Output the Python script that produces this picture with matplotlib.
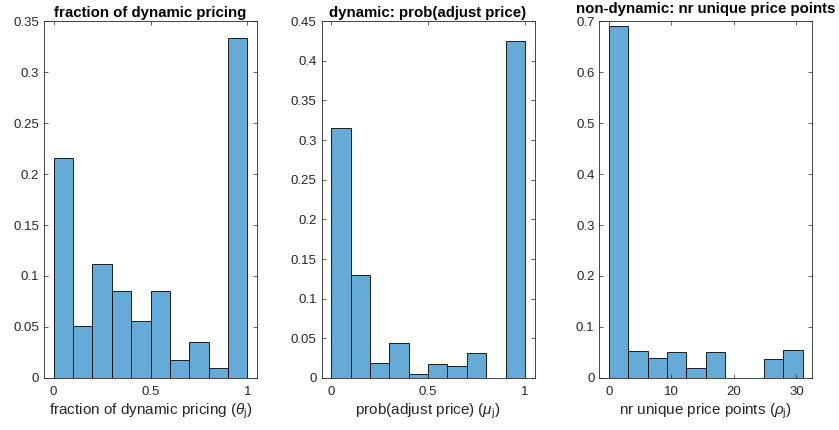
import numpy as np
import matplotlib
matplotlib.use("Agg")
import matplotlib.pyplot as plt

plt.rcParams['font.family'] = ['Liberation Sans', 'DejaVu Sans']
plt.rcParams['mathtext.fontset'] = 'custom'
plt.rcParams['mathtext.rm'] = 'Liberation Sans'
plt.rcParams['mathtext.it'] = 'Liberation Sans:italic'

# histogram bin edges and normalized counts
theta_edges = np.linspace(0, 1, 11)
theta_frac = [0.216, 0.051, 0.112, 0.0855, 0.0555, 0.085, 0.018, 0.035, 0.0095, 0.333]

mu_edges = np.linspace(0, 1, 11)
mu_frac = [0.315, 0.130, 0.019, 0.0435, 0.005, 0.0175, 0.0145, 0.031, 0.0, 0.425]

rho_edges = np.linspace(0, 31, 11)
rho_frac = [0.690, 0.052, 0.039, 0.0515, 0.0205, 0.051, 0.0, 0.0, 0.037, 0.0555]

titles = ["fraction of dynamic pricing",
          "dynamic: prob(adjust price)",
          "non-dynamic: nr unique price points"]
xlabels = [r"fraction of dynamic pricing ($\theta_\mathrm{j}$)",
           r"prob(adjust price) ($\mu_\mathrm{j}$)",
           r"nr unique price points ($\rho_\mathrm{j}$)"]
ylims = [0.35, 0.45, 0.7]
yticks = [np.arange(0, 0.351, 0.05), np.arange(0, 0.451, 0.05), np.arange(0, 0.71, 0.1)]
ylabels_txt = [["0", "0.05", "0.1", "0.15", "0.2", "0.25", "0.3", "0.35"],
               ["0", "0.05", "0.1", "0.15", "0.2", "0.25", "0.3", "0.35", "0.4", "0.45"],
               ["0", "0.1", "0.2", "0.3", "0.4", "0.5", "0.6", "0.7"]]
xticks = [[0, 0.5, 1], [0, 0.5, 1], [0, 10, 20, 30]]
xtick_txt = [["0", "0.5", "1"], ["0", "0.5", "1"], ["0", "10", "20", "30"]]

fig = plt.figure(figsize=(8.39, 4.30), dpi=100)
lefts = [0.0524, 0.3832, 0.7143]
title_pads = [3, 3, 5.5]
grey = (0.15, 0.15, 0.15)
bar_col = (0.4, 0.668, 0.8446)

data = [(theta_edges, theta_frac), (mu_edges, mu_frac), (rho_edges, rho_frac)]
for i in range(3):
    ax = fig.add_axes([lefts[i], 0.121, 0.254, 0.830])
    edges, vals = data[i]
    ax.bar(edges[:-1], vals, width=np.diff(edges), align='edge',
           color=bar_col, edgecolor='black', linewidth=0.6)
    pad = 0.05 * (edges[-1] - edges[0])
    ax.set_xlim(edges[0] - pad, edges[-1] + pad)
    ax.set_ylim(0, ylims[i])
    ax.set_yticks(yticks[i])
    ax.set_yticklabels(ylabels_txt[i])
    ax.set_xticks(xticks[i])
    ax.set_xticklabels(xtick_txt[i])
    ax.tick_params(direction='in', top=True, right=True, length=3, width=0.5,
                   colors=grey, labelsize=9.5)
    ax.tick_params(axis='y', pad=3.5)
    ax.tick_params(axis='x', pad=6)
    for s in ax.spines.values():
        s.set_color(grey)
        s.set_linewidth(0.6)
    ax.set_title(titles[i], fontsize=10.8, fontweight='bold', pad=title_pads[i])
    ax.set_xlabel(xlabels[i], fontsize=11, color=grey, labelpad=2.5)

fig.savefig("out.png", dpi=100)
